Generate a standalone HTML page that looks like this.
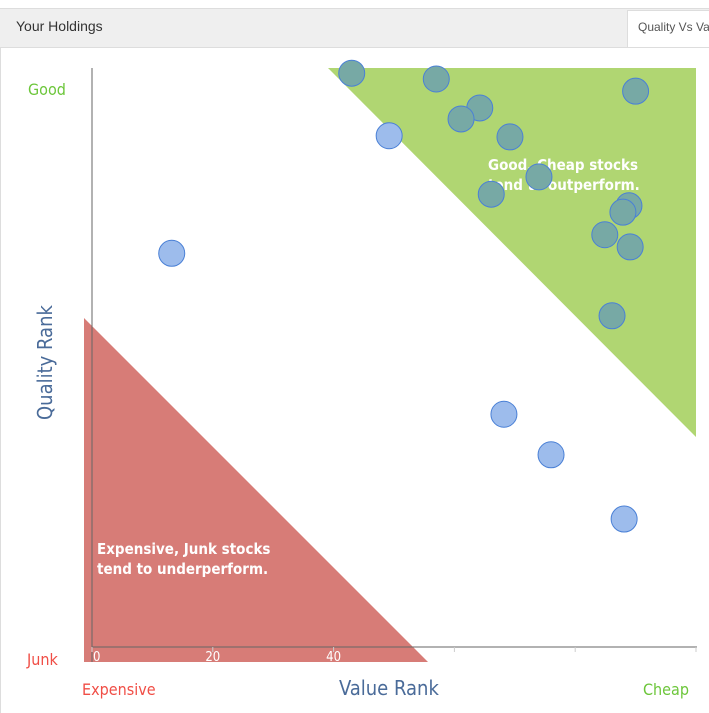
<!DOCTYPE html>
<html><head><meta charset="utf-8"><style>
body{margin:0;width:709px;height:713px;overflow:hidden;background:#fff;font-family:"Liberation Sans",sans-serif}
.hdr{position:absolute;left:0;top:8px;width:709px;height:38px;background:#efefef;border-top:1px solid #ddd;border-bottom:1px solid #ddd}
.t{position:absolute;left:16px;top:18px;font-size:14px;color:#333}
.tab{position:absolute;left:627px;top:10px;width:90px;height:37px;background:#fff;border:1px solid #ddd;border-bottom:none;font-size:12px;color:#555;line-height:32px;padding-left:10px;box-sizing:border-box;white-space:nowrap;overflow:hidden}
</style></head><body>
<div class="hdr"></div>
<div class="t">Your Holdings</div>
<div class="tab">Quality Vs Value</div>
<div style="position:absolute;left:0;top:47px;width:1px;height:666px;background:#ddd"></div>
<svg id="c" width="709" height="713" style="position:absolute;left:0;top:0"></svg>
<script>
const xVals=[43,57,90,64.2,61.1,49.2,69.2,74,66.1,88.9,87.9,84.9,89.1,13.2,86.1,68.2,76,88.1];
const yVals=[99.1,98.1,96,93.1,91.2,88.3,88.1,81.2,78.2,76.2,75.1,71.2,69.1,68,57.2,40.2,33.2,22.1];
const xTicks=[0,20,40,60,80,100];
const xTickLabels=["0","20","40","","",""];
const X=v=>92+v*6.04, Y=v=>647-v*5.79;
const s=document.getElementById('c'),NS='http://www.w3.org/2000/svg';
function mk(t,a,p){const e=document.createElementNS(NS,t);for(const k in a)e.setAttribute(k,a[k]);(p||s).appendChild(e);return e;}
let e;
e=mk('polygon',{points:'328,68 696,68 696,437',fill:'#b0d672'});


e=mk('polygon',{points:'84,318 84,662 428,662',fill:'#d77c77'});


e=mk('line',{x1:92,y1:68,x2:92,y2:662,stroke:'#666','stroke-width':1});


e=mk('line',{x1:92,y1:647,x2:697,y2:647,stroke:'#666','stroke-width':1});


xTicks.forEach((t,i)=>{
 e=mk('line',{x1:X(t),y1:647,x2:X(t),y2:652,stroke:'#ccc'});
 
 
 if(xTickLabels[i]){e=mk('text',{x:X(t)+(t?0:1),y:661,'text-anchor':t?'middle':'start','font-size':13,fill:'#fff','font-family':'DejaVu Sans Condensed, Liberation Sans, sans-serif'});e.textContent=xTickLabels[i];
 
 }
});
function txt(x,y,str,size,fill,name,extra){const e=mk('text',Object.assign({x:x,y:y,'font-size':size,fill:fill,'font-family':'DejaVu Sans Condensed, Liberation Sans, sans-serif'},extra||{}));e.textContent=str;return e;}
txt(488,170,'Good, Cheap stocks',15,'#fff','good-zone-note',{'font-weight':'bold'});
txt(488,190,'tend to outperform.',15,'#fff','good-zone-note-2',{'font-weight':'bold'});
txt(97,554,'Expensive, Junk stocks',15,'#fff','junk-zone-note',{'font-weight':'bold'});
txt(97,574,'tend to underperform.',15,'#fff','junk-zone-note-2',{'font-weight':'bold'});
xVals.forEach((v,i)=>{
 const inG=(X(v)-328)>(Y(yVals[i])-68)*(368/369);
 e=mk('circle',{cx:X(v),cy:Y(yVals[i]),r:13,fill:inG?'#77a9a5':'#9dbcec',stroke:'#4a80d6','stroke-width':1});
 
 
});
txt(28,95,'Good',16,'#6cc63a','y-good-label');
txt(27,665,'Junk',16,'#f04e46','y-junk-label');
txt(82,695,'Expensive',16,'#f04e46','x-expensive-label');
txt(643,695,'Cheap',16,'#6cc63a','x-cheap-label');
txt(339,695,'Value Rank',20,'#4a6b99','x-axis-title');
txt(0,0,'Quality Rank',20,'#4a6b99','y-axis-title',{transform:'translate(52,420) rotate(-90)'});
</script>
</body></html>
